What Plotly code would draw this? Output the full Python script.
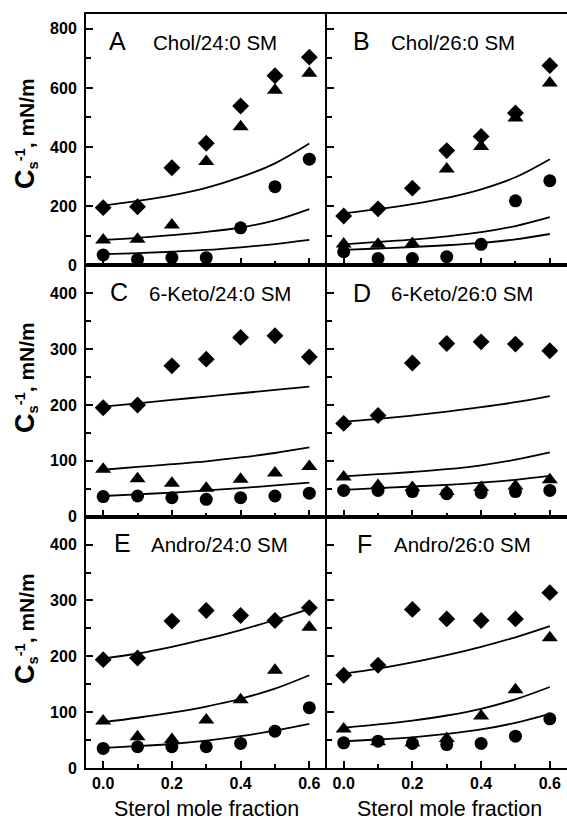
import plotly.graph_objects as go
from plotly.subplots import make_subplots

x_vals = [0.0, 0.1, 0.2, 0.3, 0.4, 0.5, 0.6]

# Panel A: Chol/24:0 SM
A_diamond = [195, 198, 330, 413, 539, 641, 704]
A_triangle = [86, 88, 136, 351, 469, 592, 650]
A_circle = [35, 20, 26, 26, 127, 266, 359]
A_line_hi = [202, 218, 237, 262, 298, 345, 412]
A_line_mid = [86, 93, 102, 113, 128, 152, 190]
A_line_lo = [38, 41, 46, 52, 61, 72, 86]

# Panel B: Chol/26:0 SM
B_diamond = [167, 191, 261, 388, 436, 515, 676]
B_triangle = [72, 71, 74, 326, 402, 498, 617]
B_circle = [46, 23, 23, 29, 71, 218, 286]
B_line_hi = [176, 190, 207, 228, 257, 298, 359]
B_line_mid = [71, 79, 87, 98, 112, 133, 163]
B_line_lo = [52, 57, 62, 68, 76, 88, 106]

# Panel C: 6-Keto/24:0 SM
C_diamond = [195, 200, 270, 282, 321, 324, 286]
C_triangle = [85, 68, 60, 51, 67, 78, 90]
C_circle = [36, 37, 34, 31, 34, 37, 42]
C_line_hi = [197, 203, 209, 215, 221, 227, 233]
C_line_mid = [84, 89, 94, 99, 106, 114, 124]
C_line_lo = [37, 40, 43, 47, 51, 56, 61]

# Panel D: 6-Keto/26:0 SM
D_diamond = [167, 181, 275, 310, 313, 309, 297]
D_triangle = [71, 56, 52, 45, 52, 55, 66]
D_circle = [47, 47, 45, 41, 43, 45, 47]
D_line_hi = [170, 175, 181, 188, 196, 205, 216]
D_line_mid = [72, 76, 80, 85, 92, 102, 115]
D_line_lo = [48, 51, 54, 57, 61, 66, 73]

# Panel E: Andro/24:0 SM
E_diamond = [194, 197, 263, 282, 273, 264, 287]
E_triangle = [84, 56, 51, 86, 122, 175, 252]
E_circle = [35, 38, 38, 38, 44, 66, 108]
E_line_hi = [196, 205, 217, 231, 247, 265, 285]
E_line_mid = [82, 90, 99, 110, 124, 142, 166]
E_line_lo = [36, 39, 43, 49, 57, 67, 79]

# Panel F: Andro/26:0 SM
F_diamond = [166, 184, 284, 267, 264, 267, 314]
F_triangle = [70, 47, 45, 53, 93, 140, 233]
F_circle = [45, 48, 44, 42, 44, 57, 88]
F_line_hi = [169, 178, 189, 202, 217, 234, 254]
F_line_mid = [72, 78, 85, 94, 106, 123, 145]
F_line_lo = [48, 51, 55, 61, 69, 81, 97]

panel_letters = ["A", "B", "C", "D", "E", "F"]
panel_names = ["Chol/24:0 SM", "Chol/26:0 SM", "6-Keto/24:0 SM",
               "6-Keto/26:0 SM", "Andro/24:0 SM", "Andro/26:0 SM"]
x_title = "Sterol mole fraction"

panels = [
    (A_diamond, A_triangle, A_circle, A_line_hi, A_line_mid, A_line_lo),
    (B_diamond, B_triangle, B_circle, B_line_hi, B_line_mid, B_line_lo),
    (C_diamond, C_triangle, C_circle, C_line_hi, C_line_mid, C_line_lo),
    (D_diamond, D_triangle, D_circle, D_line_hi, D_line_mid, D_line_lo),
    (E_diamond, E_triangle, E_circle, E_line_hi, E_line_mid, E_line_lo),
    (F_diamond, F_triangle, F_circle, F_line_hi, F_line_mid, F_line_lo),
]

W, H = 567, 822
ML, MR, MT, MB = 86, 0, 14, 54
PW, PH = W - ML - MR, H - MT - MB

fig = make_subplots(rows=3, cols=2, horizontal_spacing=0, vertical_spacing=0)

for i, (dia, tri, cir, lh, lm, ll) in enumerate(panels):
    r, c = i // 2 + 1, i % 2 + 1
    for ln in (lh, lm, ll):
        fig.add_trace(go.Scatter(x=x_vals, y=ln, mode="lines",
                                 line=dict(color="black", width=1.8, shape="spline", smoothing=1.0),
                                 showlegend=False, hoverinfo="skip"), row=r, col=c)
    fig.add_trace(go.Scatter(x=x_vals, y=dia, mode="markers", cliponaxis=False,
                             marker=dict(symbol="diamond", size=13, color="black"),
                             showlegend=False), row=r, col=c)
    fig.add_trace(go.Scatter(x=x_vals, y=tri, mode="markers", cliponaxis=False,
                             marker=dict(symbol="triangle-up", size=14, color="black"),
                             showlegend=False), row=r, col=c)
    fig.add_trace(go.Scatter(x=x_vals, y=cir, mode="markers", cliponaxis=False,
                             marker=dict(symbol="circle", size=13, color="black"),
                             showlegend=False), row=r, col=c)

tickfont = dict(family="Liberation Sans, Arial", size=16, color="black", weight="bold")

for i in range(6):
    r, c = i // 2 + 1, i % 2 + 1
    fig.update_xaxes(range=[-0.05, 0.65], tick0=0, dtick=0.2, tickformat=".1f",
                     ticks="inside", ticklen=7, tickwidth=1.5, tickcolor="black",
                     minor=dict(dtick=0.1, tick0=0, ticks="inside", ticklen=4, tickwidth=1.5, tickcolor="black"),
                     showline=True, linewidth=2, linecolor="black", mirror=True,
                     showgrid=False, zeroline=False,
                     showticklabels=(r == 3), tickfont=tickfont,
                     row=r, col=c)
    if r == 1:
        yr, dt, mdt = [0, 850], 200, 100
    else:
        yr, dt, mdt = [0, 450], 100, 50
    fig.update_yaxes(range=yr, tick0=0, dtick=dt,
                     ticks="inside", ticklen=7, tickwidth=1.5, tickcolor="black",
                     minor=dict(dtick=mdt, tick0=0, ticks="inside", ticklen=5, tickwidth=1.5, tickcolor="black"),
                     showline=True, linewidth=2, linecolor="black", mirror=False,
                     showgrid=False, zeroline=False,
                     showticklabels=(c == 1), tickfont=tickfont, ticklabelstandoff=4,
                     row=r, col=c)


def px_x(p):
    return (p - ML) / PW


def px_y(p):
    return (H - MB - p) / PH


annotations = []
letter_pos = [(107, 41), (351, 41), (108, 292), (351, 293), (112, 543), (355, 544)]
name_pos = [(151, 43), (389, 43), (147, 293), (389, 293), (149, 544), (392, 544)]
for i in range(6):
    lx, ly = letter_pos[i]
    nx, ny = name_pos[i]
    annotations.append(dict(x=px_x(lx), y=px_y(ly), xref="paper", yref="paper",
                            text=panel_letters[i], showarrow=False, xanchor="left", yanchor="middle",
                            font=dict(family="Liberation Sans, Arial", size=25, color="black")))
    annotations.append(dict(x=px_x(nx), y=px_y(ny), xref="paper", yref="paper",
                            text=panel_names[i], showarrow=False, xanchor="left", yanchor="middle",
                            font=dict(family="Liberation Sans, Arial", size=20.5, color="black")))

ytitle = ('<b><span style="font-size:27px">C</span><sub>s</sub>'
          '<sup>-1</sup>, mN/m</b>')
for yc in (134, 378, 629):
    annotations.append(dict(x=px_x(25), y=px_y(yc), xref="paper", yref="paper",
                            text=ytitle, textangle=-90, showarrow=False,
                            xanchor="center", yanchor="middle",
                            font=dict(family="Liberation Sans, Arial", size=21, color="black")))

for xc in (206, 449):
    annotations.append(dict(x=px_x(xc), y=px_y(809), xref="paper", yref="paper",
                            text=x_title, showarrow=False, xanchor="center", yanchor="middle",
                            font=dict(family="Liberation Sans, Arial", size=21.5, color="black")))

fig.update_layout(width=W, height=H, margin=dict(l=ML, r=MR, t=MT, b=MB, autoexpand=False),
                  paper_bgcolor="white", plot_bgcolor="white",
                  annotations=annotations, showlegend=False)

fig.write_html("out.html", config={"displayModeBar": False},
               post_script="document.body.style.margin='0px';document.body.style.overflow='hidden';")
